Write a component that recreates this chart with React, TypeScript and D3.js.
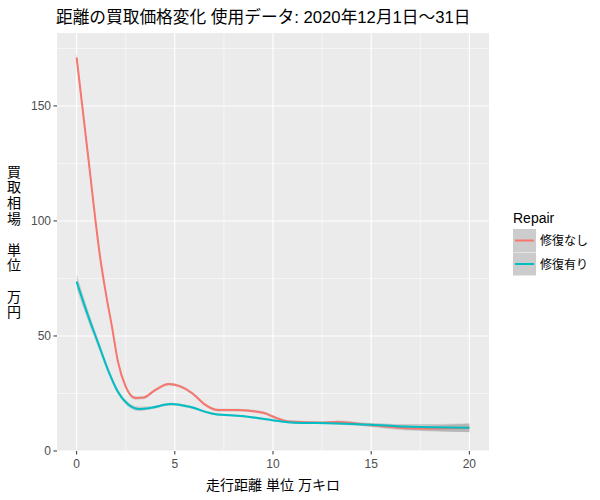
import { useEffect, useRef } from 'react';
import * as d3 from 'd3';

// 走行距離 (万キロ)
const kmNone = [0, 0.6, 1.2, 1.5, 1.8, 2.1, 2.5, 3.0, 3.4, 4.0, 4.7, 5.2, 5.9, 6.5, 7.2, 8.2, 8.9, 9.6, 10.1, 10.8, 12.5, 13.3, 15.0, 15.8, 17.5, 20];
const priceNone = [171, 127, 84, 68, 54, 39, 28, 23, 23.2, 26.5, 29.1, 28.3, 25, 20.4, 17.8, 17.8, 17.4, 16.4, 14.6, 12.8, 12.3, 12.6, 11.2, 10.6, 9.8, 10.1];
const seNone = [2.5, 2, 1.5, 1.2, 1, 0.9, 0.8, 0.7, 0.7, 0.6, 0.6, 0.6, 0.6, 0.6, 0.6, 0.6, 0.6, 0.6, 0.6, 0.6, 0.6, 0.7, 0.8, 0.9, 1.1, 1.8];

const kmRepair = [0, 0.6, 1.1, 1.6, 2.1, 2.6, 3.15, 3.8, 4.8, 5.7, 7.0, 8.4, 9.9, 11.1, 13.3, 15.0, 16.7, 20];
const priceRepair = [73.6, 58.4, 46.8, 35.2, 25.8, 20.4, 18.3, 18.8, 20.4, 19.3, 16.1, 15.2, 13.5, 12.3, 12.0, 11.4, 10.6, 10.1];
const seRepair = [3.2, 2.4, 1.8, 1.4, 1.1, 1, 1, 0.7, 0.6, 0.6, 0.5, 0.5, 0.5, 0.5, 0.6, 0.8, 1.1, 1.9];

const xTicks = [0, 5, 10, 15, 20];
const xMinor = [2.5, 7.5, 12.5, 17.5];
const yTicks = [0, 50, 100, 150];
const yMinor = [25, 75, 125, 175];

const groups = ['修復なし', '修復有り'];
const colors = ['#F8766D', '#00BFC4'];

const yTitleChars = ['買', '取', '相', '場', '', '単', '位', '', '万', '円'];

const FONT = '"Liberation Sans", Arial, "Noto Sans CJK JP", sans-serif';

export default function App() {
  const svgRef = useRef<SVGSVGElement>(null);

  useEffect(() => {
    if (!svgRef.current) return;
    const root = d3.select(svgRef.current);
    root.selectAll('*').remove();

    const panel = { left: 57, right: 489, top: 33, bottom: 451 };

    const x = d3.scaleLinear().domain([-1, 21]).range([panel.left, panel.right]);
    const y = d3.scaleLinear().domain([0, 181.7]).range([panel.bottom, panel.top]);

    // panel background
    root.append('rect')
      .attr('x', panel.left)
      .attr('y', panel.top)
      .attr('width', panel.right - panel.left)
      .attr('height', panel.bottom - panel.top)
      .attr('fill', '#EBEBEB');

    // minor grid
    const grid = root.append('g');
    xMinor.forEach(v => {
      grid.append('line')
        .attr('x1', x(v)).attr('x2', x(v))
        .attr('y1', panel.top).attr('y2', panel.bottom)
        .attr('stroke', '#fff').attr('stroke-width', 0.55);
    });
    yMinor.forEach(v => {
      grid.append('line')
        .attr('x1', panel.left).attr('x2', panel.right)
        .attr('y1', y(v)).attr('y2', y(v))
        .attr('stroke', '#fff').attr('stroke-width', 0.55);
    });
    // major grid
    xTicks.forEach(v => {
      grid.append('line')
        .attr('x1', x(v)).attr('x2', x(v))
        .attr('y1', panel.top).attr('y2', panel.bottom)
        .attr('stroke', '#fff').attr('stroke-width', 1.1);
    });
    yTicks.forEach(v => {
      grid.append('line')
        .attr('x1', panel.left).attr('x2', panel.right)
        .attr('y1', y(v)).attr('y2', y(v))
        .attr('stroke', '#fff').attr('stroke-width', 1.1);
    });

    const series = [
      { km: kmNone, price: priceNone, se: seNone, color: colors[0] },
      { km: kmRepair, price: priceRepair, se: seRepair, color: colors[1] },
    ];

    const clip = root.append('defs').append('clipPath').attr('id', 'panel-clip');
    clip.append('rect')
      .attr('x', panel.left).attr('y', panel.top)
      .attr('width', panel.right - panel.left).attr('height', panel.bottom - panel.top);

    const plot = root.append('g').attr('clip-path', 'url(#panel-clip)');

    // ribbons first, then lines
    series.forEach(s => {
      const idx = d3.range(s.km.length);
      const area = d3.area<number>()
        .x(i => x(s.km[i]))
        .y0(i => y(s.price[i] - s.se[i]))
        .y1(i => y(s.price[i] + s.se[i]))
        .curve(d3.curveMonotoneX);
      plot.append('path')
        .datum(idx)
        .attr('fill', '#999999')
        .attr('fill-opacity', 0.4)
        .attr('d', area);
    });

    series.forEach(s => {
      const idx = d3.range(s.km.length);
      const line = d3.line<number>()
        .x(i => x(s.km[i]))
        .y(i => y(s.price[i]))
        .curve(d3.curveMonotoneX);
      plot.append('path')
        .datum(idx)
        .attr('fill', 'none')
        .attr('stroke', s.color)
        .attr('stroke-width', 2)
        .attr('d', line);
    });

    // x axis
    const xAxis = root.append('g');
    xTicks.forEach(v => {
      xAxis.append('line')
        .attr('x1', x(v)).attr('x2', x(v))
        .attr('y1', panel.bottom).attr('y2', panel.bottom + 3.5)
        .attr('stroke', '#333333').attr('stroke-width', 1);
      xAxis.append('text')
        .attr('x', x(v)).attr('y', panel.bottom + 17)
        .attr('text-anchor', 'middle')
        .attr('font-family', FONT)
        .attr('font-size', 12)
        .attr('fill', '#4D4D4D')
        .text(v);
    });

    // y axis
    const yAxis = root.append('g');
    yTicks.forEach(v => {
      yAxis.append('line')
        .attr('x1', panel.left - 3.5).attr('x2', panel.left)
        .attr('y1', y(v)).attr('y2', y(v))
        .attr('stroke', '#333333').attr('stroke-width', 1);
      yAxis.append('text')
        .attr('x', panel.left - 6).attr('y', y(v) + 4.3)
        .attr('text-anchor', 'end')
        .attr('font-family', FONT)
        .attr('font-size', 12)
        .attr('fill', '#4D4D4D')
        .text(v);
    });

    // titles
    root.append('text')
      .attr('x', 56).attr('y', 23)
      .attr('font-family', FONT)
      .attr('font-size', 16.7)
      .attr('fill', '#000')
      .text('距離の買取価格変化 使用データ: 2020年12月1日～31日');

    root.append('text')
      .attr('x', (panel.left + panel.right) / 2).attr('y', 490)
      .attr('text-anchor', 'middle')
      .attr('font-family', FONT)
      .attr('font-size', 14)
      .attr('fill', '#000')
      .text('走行距離 単位 万キロ');

    const yMid = (panel.top + panel.bottom) / 2;
    const lineH = 15.6;
    yTitleChars.forEach((c, i) => {
      root.append('text')
        .attr('x', 14).attr('y', yMid + (i - (yTitleChars.length - 1) / 2) * lineH + 5)
        .attr('text-anchor', 'middle')
        .attr('font-family', FONT)
        .attr('font-size', 14)
        .attr('fill', '#000')
        .text(c);
    });

    // legend
    const legend = root.append('g');
    legend.append('text')
      .attr('x', 513).attr('y', 223)
      .attr('font-family', FONT)
      .attr('font-size', 14)
      .attr('fill', '#000')
      .text('Repair');
    groups.forEach((g, i) => {
      const top = 229 + i * 23.5;
      legend.append('rect')
        .attr('x', 513).attr('y', top)
        .attr('width', 23).attr('height', 23)
        .attr('fill', '#CCCCCC');
      legend.append('line')
        .attr('x1', 515).attr('x2', 534)
        .attr('y1', top + 11.5).attr('y2', top + 11.5)
        .attr('stroke', colors[i]).attr('stroke-width', 2);
      legend.append('text')
        .attr('x', 540).attr('y', top + 16)
        .attr('font-family', FONT)
        .attr('font-size', 12)
        .attr('fill', '#000')
        .text(g);
    });
  }, []);

  return (
    <svg
      ref={svgRef}
      width={600}
      height={500}
      style={{ position: 'absolute', left: 0, top: 0, background: '#fff' }}
    />
  );
}
